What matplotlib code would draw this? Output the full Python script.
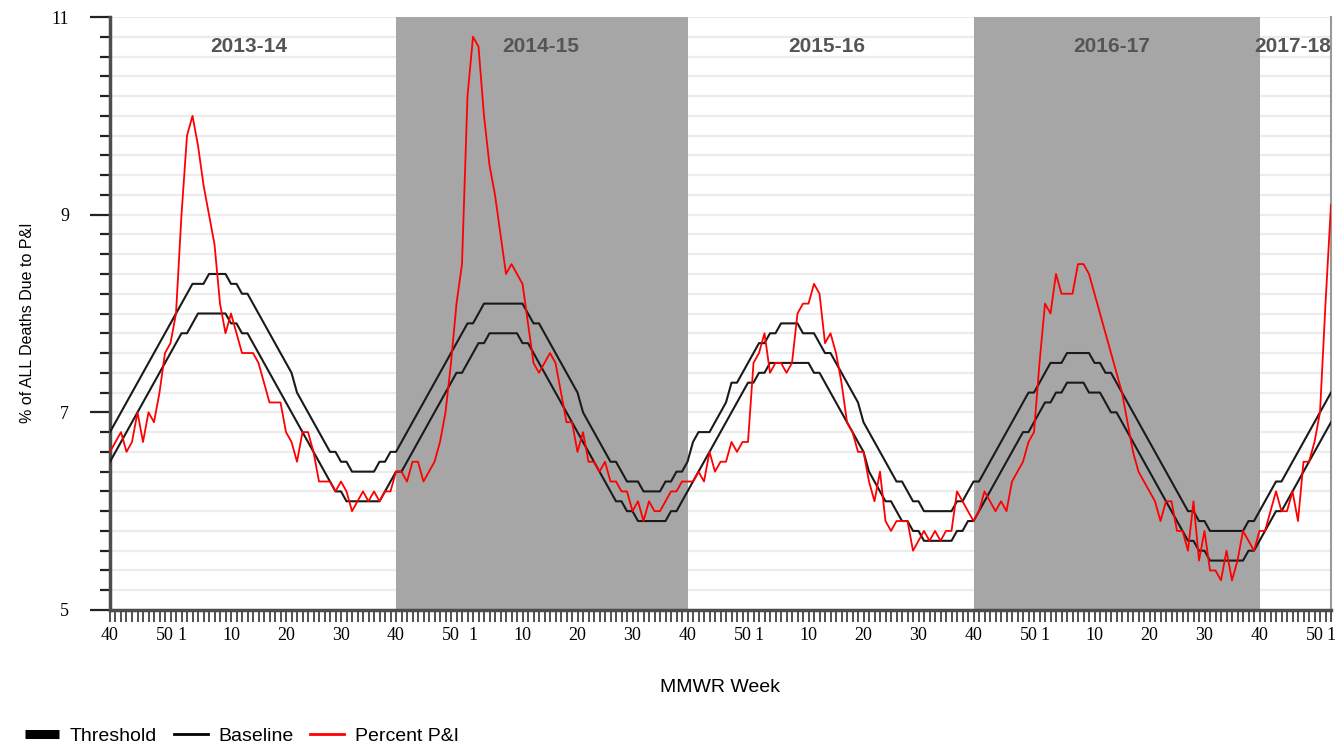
import matplotlib
matplotlib.use("Agg")
import matplotlib.pyplot as plt
from matplotlib.lines import Line2D
import numpy as np

# seasons (each starts at MMWR week 40)
season_names = ["2013-14", "2014-15", "2015-16", "2016-17", "2017-18"]
season_label_x = [25.3, 78.4, 130.4, 182.2, 222]
shaded_seasons = [(52, 105), (157, 209)]
weeks_in_year = {2013: 52, 2014: 53, 2015: 52, 2016: 52, 2017: 52, 2018: 52}
labelled_weeks = [40, 50, 1, 10, 20, 30]

baseline = [
    # 2013-14
    6.5, 6.6, 6.7, 6.8, 6.9, 7.0, 7.1, 7.2, 7.3, 7.4, 7.5, 7.6, 7.7, 7.8, 7.8, 7.9,
    8.0, 8.0, 8.0, 8.0, 8.0, 8.0, 7.9, 7.9, 7.8, 7.8, 7.7, 7.6, 7.5, 7.4, 7.3, 7.2,
    7.1, 7.0, 6.9, 6.8, 6.7, 6.6, 6.5, 6.4, 6.3, 6.2, 6.2, 6.1, 6.1, 6.1, 6.1, 6.1,
    6.1, 6.1, 6.2, 6.3,
    # 2014-15
    6.4, 6.4, 6.5, 6.6, 6.7, 6.8, 6.9, 7.0, 7.1, 7.2, 7.3, 7.4, 7.4, 7.5, 7.6, 7.7,
    7.7, 7.8, 7.8, 7.8, 7.8, 7.8, 7.8, 7.7, 7.7, 7.6, 7.5, 7.4, 7.3, 7.2, 7.1, 7.0,
    6.9, 6.8, 6.7, 6.6, 6.5, 6.4, 6.3, 6.2, 6.1, 6.1, 6.0, 6.0, 5.9, 5.9, 5.9, 5.9,
    5.9, 5.9, 6.0, 6.0, 6.1,
    # 2015-16
    6.2, 6.3, 6.4, 6.5, 6.6, 6.7, 6.8, 6.9, 7.0, 7.1, 7.2, 7.3, 7.3, 7.4, 7.4, 7.5,
    7.5, 7.5, 7.5, 7.5, 7.5, 7.5, 7.5, 7.4, 7.4, 7.3, 7.2, 7.1, 7.0, 6.9, 6.8, 6.7,
    6.6, 6.4, 6.3, 6.2, 6.1, 6.1, 6.0, 5.9, 5.9, 5.8, 5.8, 5.7, 5.7, 5.7, 5.7, 5.7,
    5.7, 5.8, 5.8, 5.9,
    # 2016-17
    5.9, 6.0, 6.1, 6.2, 6.3, 6.4, 6.5, 6.6, 6.7, 6.8, 6.8, 6.9, 7.0, 7.1, 7.1, 7.2,
    7.2, 7.3, 7.3, 7.3, 7.3, 7.2, 7.2, 7.2, 7.1, 7.0, 7.0, 6.9, 6.8, 6.7, 6.6, 6.5,
    6.4, 6.3, 6.2, 6.1, 6.0, 5.9, 5.8, 5.7, 5.7, 5.6, 5.6, 5.5, 5.5, 5.5, 5.5, 5.5,
    5.5, 5.5, 5.6, 5.6,
    # 2017-18
    5.7, 5.8, 5.9, 6.0, 6.0, 6.1, 6.2, 6.3, 6.4, 6.5, 6.6, 6.7, 6.8, 6.9,
]

threshold = [
    # 2013-14
    6.8, 6.9, 7.0, 7.1, 7.2, 7.3, 7.4, 7.5, 7.6, 7.7, 7.8, 7.9, 8.0, 8.1, 8.2, 8.3,
    8.3, 8.3, 8.4, 8.4, 8.4, 8.4, 8.3, 8.3, 8.2, 8.2, 8.1, 8.0, 7.9, 7.8, 7.7, 7.6,
    7.5, 7.4, 7.2, 7.1, 7.0, 6.9, 6.8, 6.7, 6.6, 6.6, 6.5, 6.5, 6.4, 6.4, 6.4, 6.4,
    6.4, 6.5, 6.5, 6.6,
    # 2014-15
    6.6, 6.7, 6.8, 6.9, 7.0, 7.1, 7.2, 7.3, 7.4, 7.5, 7.6, 7.7, 7.8, 7.9, 7.9, 8.0,
    8.1, 8.1, 8.1, 8.1, 8.1, 8.1, 8.1, 8.1, 8.0, 7.9, 7.9, 7.8, 7.7, 7.6, 7.5, 7.4,
    7.3, 7.2, 7.0, 6.9, 6.8, 6.7, 6.6, 6.5, 6.5, 6.4, 6.3, 6.3, 6.3, 6.2, 6.2, 6.2,
    6.2, 6.3, 6.3, 6.4, 6.4,
    # 2015-16
    6.5, 6.7, 6.8, 6.8, 6.8, 6.9, 7.0, 7.1, 7.3, 7.3, 7.4, 7.5, 7.6, 7.7, 7.7, 7.8,
    7.8, 7.9, 7.9, 7.9, 7.9, 7.8, 7.8, 7.8, 7.7, 7.6, 7.6, 7.5, 7.4, 7.3, 7.2, 7.1,
    6.9, 6.8, 6.7, 6.6, 6.5, 6.4, 6.3, 6.3, 6.2, 6.1, 6.1, 6.0, 6.0, 6.0, 6.0, 6.0,
    6.0, 6.1, 6.1, 6.2,
    # 2016-17
    6.3, 6.3, 6.4, 6.5, 6.6, 6.7, 6.8, 6.9, 7.0, 7.1, 7.2, 7.2, 7.3, 7.4, 7.5, 7.5,
    7.5, 7.6, 7.6, 7.6, 7.6, 7.6, 7.5, 7.5, 7.4, 7.4, 7.3, 7.2, 7.1, 7.0, 6.9, 6.8,
    6.7, 6.6, 6.5, 6.4, 6.3, 6.2, 6.1, 6.0, 6.0, 5.9, 5.9, 5.8, 5.8, 5.8, 5.8, 5.8,
    5.8, 5.8, 5.9, 5.9,
    # 2017-18
    6.0, 6.1, 6.2, 6.3, 6.3, 6.4, 6.5, 6.6, 6.7, 6.8, 6.9, 7.0, 7.1, 7.2,
]

percent_pi = [
    # 2013-14
    6.6, 6.7, 6.8, 6.6, 6.7, 7.0, 6.7, 7.0, 6.9, 7.2, 7.6, 7.7, 8.0, 9.0, 9.8, 10.0,
    9.7, 9.3, 9.0, 8.7, 8.1, 7.8, 8.0, 7.8, 7.6, 7.6, 7.6, 7.5, 7.3, 7.1, 7.1, 7.1,
    6.8, 6.7, 6.5, 6.8, 6.8, 6.6, 6.3, 6.3, 6.3, 6.2, 6.3, 6.2, 6.0, 6.1, 6.2, 6.1,
    6.2, 6.1, 6.2, 6.2,
    # 2014-15
    6.4, 6.4, 6.3, 6.5, 6.5, 6.3, 6.4, 6.5, 6.7, 7.0, 7.5, 8.1, 8.5, 10.2, 10.8, 10.7,
    10.0, 9.5, 9.2, 8.8, 8.4, 8.5, 8.4, 8.3, 7.9, 7.5, 7.4, 7.5, 7.6, 7.5, 7.2, 6.9,
    6.9, 6.6, 6.8, 6.5, 6.5, 6.4, 6.5, 6.3, 6.3, 6.2, 6.2, 6.0, 6.1, 5.9, 6.1, 6.0,
    6.0, 6.1, 6.2, 6.2, 6.3,
    # 2015-16
    6.3, 6.3, 6.4, 6.3, 6.6, 6.4, 6.5, 6.5, 6.7, 6.6, 6.7, 6.7, 7.5, 7.6, 7.8, 7.4,
    7.5, 7.5, 7.4, 7.5, 8.0, 8.1, 8.1, 8.3, 8.2, 7.7, 7.8, 7.6, 7.3, 6.9, 6.8, 6.6,
    6.6, 6.3, 6.1, 6.4, 5.9, 5.8, 5.9, 5.9, 5.9, 5.6, 5.7, 5.8, 5.7, 5.8, 5.7, 5.8,
    5.8, 6.2, 6.1, 6.0,
    # 2016-17
    5.9, 6.0, 6.2, 6.1, 6.0, 6.1, 6.0, 6.3, 6.4, 6.5, 6.7, 6.8, 7.5, 8.1, 8.0, 8.4,
    8.2, 8.2, 8.2, 8.5, 8.5, 8.4, 8.2, 8.0, 7.8, 7.6, 7.4, 7.2, 6.9, 6.6, 6.4, 6.3,
    6.2, 6.1, 5.9, 6.1, 6.1, 5.8, 5.8, 5.6, 6.1, 5.5, 5.8, 5.4, 5.4, 5.3, 5.6, 5.3,
    5.5, 5.8, 5.7, 5.6,
    # 2017-18
    5.8, 5.8, 6.0, 6.2, 6.0, 6.0, 6.2, 5.9, 6.5, 6.5, 6.7, 7.0, 8.1, 9.1,
]

# MMWR week number of every plotted week, starting 2013 week 40
week_numbers = []
year, wk = 2013, 40
for _ in range(len(percent_pi)):
    week_numbers.append(wk)
    wk += 1
    if wk > weeks_in_year[year]:
        wk = 1
        year += 1

x = np.arange(len(percent_pi))

fig = plt.figure(figsize=(13.35, 7.47), dpi=100)
ax = fig.add_axes([110 / 1335, 1 - 610 / 747, 1221 / 1335, 593 / 747])

for start, end in shaded_seasons:
    ax.axvspan(start, end, color="#a6a6a6", lw=0, zorder=1)

ax.plot(x, threshold, color="#1a1a1a", lw=1.5, zorder=3)
ax.plot(x, baseline, color="#1a1a1a", lw=1.5, zorder=3)
ax.plot(x, percent_pi, color="#ff0000", lw=1.3, zorder=4)

ax.set_xlim(0, len(percent_pi) - 1)
ax.set_ylim(5, 11)

# y axis
ax.set_yticks([5, 7, 9, 11])
ax.set_yticks(np.arange(5, 11.01, 0.2), minor=True)
ax.set_axisbelow(True)
ax.yaxis.grid(True, which="both", color="#ececec", lw=1.6)
ax.tick_params(axis="y", which="major", length=14.4, width=1.6, color="#222222",
               pad=15, labelsize=13)
ax.tick_params(axis="y", which="minor", length=7.2, width=1.6, color="#222222")

# x axis: a tick every week, labels on selected weeks
label_pos = [i for i, w in enumerate(week_numbers) if w in labelled_weeks]
label_txt = [str(week_numbers[i]) for i in label_pos]
ax.set_xticks(label_pos)
ax.set_xticklabels(label_txt)
ax.set_xticks(x, minor=True)
ax.tick_params(axis="x", which="both", length=8.6, width=1.1, color="#222222")
ax.tick_params(axis="x", which="major", pad=4, labelsize=13)
for lab in ax.get_xticklabels() + ax.get_yticklabels():
    lab.set_fontfamily("Liberation Serif")

for side in ["left", "bottom"]:
    ax.spines[side].set_color("#4d4d4d")
    ax.spines[side].set_linewidth(2.5)
ax.spines["right"].set_color("#999999")
ax.spines["right"].set_linewidth(1.5)
ax.spines["top"].set_visible(False)

for name, pos in zip(season_names, season_label_x):
    ha = "right" if name == season_names[-1] else "center"
    ax.text(pos, 10.70, name, ha=ha, va="center", fontsize=15, fontweight="bold",
            color="#555555", family="Liberation Sans", zorder=5)

fig.text(28 / 1335, 1 - 323 / 747, "% of ALL Deaths Due to P&I", rotation=90,
         ha="center", va="center", fontsize=11.5, family="Liberation Sans")
fig.text(720 / 1335, 1 - 687 / 747, "MMWR Week", ha="center", va="center",
         fontsize=14, family="Liberation Sans")

handles = [
    Line2D([], [], color="black", lw=6.5, solid_capstyle="butt"),
    Line2D([], [], color="black", lw=2),
    Line2D([], [], color="#ff0000", lw=2),
]
fig.legend(handles, ["Threshold", "Baseline", "Percent P&I"], loc="center left",
           bbox_to_anchor=(25 / 1335, 1 - 736 / 747), ncol=3, frameon=False,
           prop={"family": "Liberation Sans", "size": 14}, handlelength=1.75,
           handletextpad=0.55, columnspacing=0.85, borderaxespad=0, borderpad=0)

fig.savefig("out.png", dpi=100)
